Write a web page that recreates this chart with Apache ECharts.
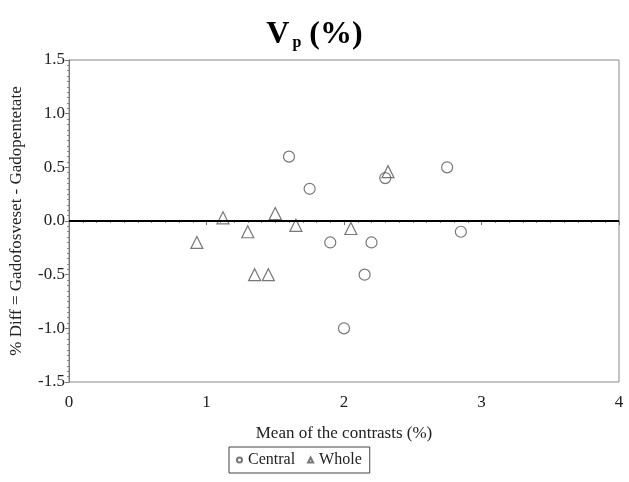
<!DOCTYPE html>
<html>
<head>
<meta charset="utf-8">
<script src="https://cdn.jsdelivr.net/npm/echarts@6/dist/echarts.min.js"></script>
<style>
  html, body { margin: 0; padding: 0; background: #fff; }
  #main { width: 629px; height: 482px; }
</style>
</head>
<body>
<div id="main"></div>
<script>
// 初始化实例
var chart = echarts.init(document.getElementById('main'));

// Central 组
const centralX = [1.6, 1.75, 2.3, 2.75, 1.9, 2.2, 2.85, 2.15, 2.0];
const centralY = [0.6, 0.3, 0.4, 0.5, -0.2, -0.2, -0.1, -0.5, -1.0];
// Whole 组
const wholeX = [0.93, 1.12, 1.3, 1.35, 1.45, 1.5, 1.65, 2.05, 2.32];
const wholeY = [-0.2, 0.03, -0.1, -0.5, -0.5, 0.07, -0.04, -0.07, 0.46];

const seriesNames = ['Central', 'Whole'];
const xTicks = [0, 4, 1];      // min, max, interval
const yTicks = [-1.5, 1.5, 0.5];

const serif = 'Liberation Serif';
const markColor = '#555';

function pairs(xs, ys) {
    return xs.map((x, i) => [x, ys[i]]);
}

var option = {
    backgroundColor: '#fff',
    animation: false,
    title: {
        text: '{a|V}{b|p}{a|(%)}',
        left: 'center',
        top: 14,
        textStyle: {
            rich: {
                a: { fontFamily: serif, fontSize: 32, fontWeight: 'bold', color: '#000' },
                b: { fontFamily: serif, fontSize: 16, fontWeight: 'bold', color: '#000', padding: [16, 8, 0, 3] }
            }
        }
    },
    grid: {
        left: 66,
        right: 10,
        top: 60,
        bottom: 100,
        show: true,
        borderColor: '#888',
        borderWidth: 1
    },
    legend: {
        data: seriesNames,
        top: 447,
        left: 229,
        orient: 'horizontal',
        itemWidth: 5,
        itemHeight: 5,
        itemGap: 12,
        borderColor: '#444',
        borderWidth: 1,
        borderRadius: 0,
        padding: [5, 8, 5, 7],
        textStyle: { fontFamily: serif, fontSize: 16, color: '#222', padding: [0, 0, 0, 1] }
    },
    xAxis: {
        type: 'value',
        min: xTicks[0],
        max: xTicks[1],
        interval: xTicks[2],
        name: 'Mean of the contrasts (%)',
        nameLocation: 'middle',
        nameGap: 43,
        nameTextStyle: { fontFamily: serif, fontSize: 17, color: '#222' },
        axisLine: { lineStyle: { color: '#777' } },
        axisTick: { show: true, length: 4, lineStyle: { color: '#777' } },
        minorTick: { show: true, splitNumber: 10, length: 2, lineStyle: { color: '#888' } },
        axisLabel: { fontFamily: serif, fontSize: 17, color: '#222', margin: 12 },
        splitLine: { show: false }
    },
    yAxis: {
        type: 'value',
        min: yTicks[0],
        max: yTicks[1],
        interval: yTicks[2],
        name: '% Diff = Gadofosveset - Gadopentetate',
        nameLocation: 'middle',
        nameRotate: 90,
        nameGap: 44,
        nameTextStyle: { fontFamily: serif, fontSize: 17, color: '#222' },
        axisLine: { lineStyle: { color: '#777' } },
        axisTick: { show: true, length: 4, lineStyle: { color: '#777' } },
        minorTick: { show: true, splitNumber: 10, length: 2, lineStyle: { color: '#888' } },
        axisLabel: {
            fontFamily: serif, fontSize: 17, color: '#222', margin: 4,
            formatter: (v) => v.toFixed(1)
        },
        splitLine: { show: false }
    },
    series: [
        {
            name: seriesNames[0],
            type: 'scatter',
            symbol: 'circle',
            symbolSize: 11,
            itemStyle: { color: 'rgba(255,255,255,0)', borderColor: markColor, borderWidth: 1.2 },
            data: pairs(centralX, centralY),
            markLine: {
                silent: true,
                symbol: 'none',
                label: { show: false },
                lineStyle: { color: '#000', width: 2, type: 'solid' },
                data: [{ yAxis: 0 }]
            },
            z: 3
        },
        {
            name: seriesNames[1],
            type: 'scatter',
            symbol: 'triangle',
            symbolSize: 12,
            itemStyle: { color: 'rgba(255,255,255,0)', borderColor: markColor, borderWidth: 1.2 },
            data: pairs(wholeX, wholeY),
            z: 3
        }
    ]
};

chart.setOption(option);

window.addEventListener('resize', function () {
    chart.resize();
});
</script>
</body>
</html>
